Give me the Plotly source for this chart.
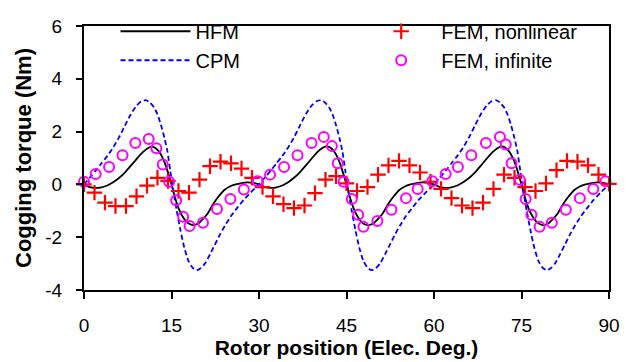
import plotly.graph_objects as go

# ---------------- data ----------------
hfm_x = [0, 1.0, 2.0, 3.0, 4.0, 5.0, 6.0, 7.0, 8.0, 9.0, 10.0, 10.8, 11.5, 12.2, 12.8, 13.4, 14.0, 14.5,
         15.0, 15.6, 16.2, 16.8, 17.5, 18.2, 18.8, 19.5, 20.3, 21.2, 22.1, 23.0, 24.0, 25.0, 26.0, 27.0, 28.0, 29.0,
         30.0, 31.0, 32.0, 33.0, 34.0, 35.0, 36.0, 37.0, 38.0, 39.0, 40.0, 40.8, 41.5, 42.2, 42.8, 43.4, 44.0, 44.5,
         45.0, 45.6, 46.2, 46.8, 47.5, 48.2, 48.8, 49.5, 50.3, 51.2, 52.1, 53.0, 54.0, 55.0, 56.0, 57.0, 58.0, 59.0,
         60.0, 61.0, 62.0, 63.0, 64.0, 65.0, 66.0, 67.0, 68.0, 69.0, 70.0, 70.8, 71.5, 72.2, 72.8, 73.4, 74.0, 74.5,
         75.0, 75.6, 76.2, 76.8, 77.5, 78.2, 78.8, 79.5, 80.3, 81.2, 82.1, 83.0, 84.0, 85.0, 86.0, 87.0, 88.0, 89.0, 90.0]
hfm_y = [0.0, -0.10, -0.13, -0.11, -0.04, 0.08, 0.24, 0.45, 0.70, 0.96, 1.20, 1.35, 1.43, 1.39, 1.26, 1.04, 0.72, 0.38,
         0.0, -0.50, -0.90, -1.18, -1.40, -1.51, -1.54, -1.49, -1.33, -1.10, -0.76, -0.48, -0.22, -0.08, 0.0, 0.05, 0.08, 0.06,
         0.0, -0.10, -0.13, -0.11, -0.04, 0.08, 0.25, 0.46, 0.71, 0.97, 1.22, 1.37, 1.44, 1.40, 1.27, 1.05, 0.72, 0.37,
         0.0, -0.50, -0.90, -1.18, -1.41, -1.52, -1.54, -1.49, -1.33, -1.10, -0.76, -0.48, -0.22, -0.08, 0.0, 0.05, 0.08, 0.06,
         0.0, -0.10, -0.13, -0.11, -0.04, 0.08, 0.24, 0.45, 0.70, 0.97, 1.21, 1.36, 1.44, 1.40, 1.27, 1.05, 0.73, 0.38,
         0.0, -0.50, -0.90, -1.18, -1.40, -1.51, -1.54, -1.49, -1.33, -1.10, -0.76, -0.48, -0.22, -0.08, 0.0, 0.05, 0.08, 0.06, 0.0]

cpm_x = [0, 1.0, 2.0, 3.0, 4.0, 5.0, 6.0, 7.0, 8.0, 9.0, 9.8, 10.6, 11.3, 12.0, 12.6, 13.2, 13.8, 14.3, 14.8,
         15.3, 15.9, 16.5, 17.2, 17.9, 18.6, 19.3, 20.0, 20.8, 21.6, 22.4, 23.3, 24.2, 25.2, 26.3, 27.4, 28.6, 29.4,
         30.0, 31.0, 32.0, 33.0, 34.0, 35.0, 36.0, 37.0, 38.0, 39.0, 39.8, 40.6, 41.3, 42.0, 42.6, 43.2, 43.8, 44.3, 44.8,
         45.3, 45.9, 46.5, 47.2, 47.9, 48.6, 49.3, 50.0, 50.8, 51.6, 52.4, 53.3, 54.2, 55.2, 56.3, 57.4, 58.6, 59.4,
         60.0, 61.0, 62.0, 63.0, 64.0, 65.0, 66.0, 67.0, 68.0, 69.0, 69.8, 70.6, 71.3, 72.0, 72.6, 73.2, 73.8, 74.3, 74.8,
         75.3, 75.9, 76.5, 77.2, 77.9, 78.6, 79.3, 80.0, 80.8, 81.6, 82.4, 83.3, 84.2, 85.2, 86.3, 87.4, 88.6, 89.4, 90.0]
cpm_y = [0.0, 0.26, 0.52, 0.80, 1.08, 1.40, 1.78, 2.22, 2.65, 2.98, 3.14, 3.19, 3.10, 2.92, 2.65, 2.25, 1.75, 1.25, 0.50,
         -0.25, -1.00, -1.70, -2.40, -2.90, -3.15, -3.25, -3.18, -2.98, -2.65, -2.30, -1.90, -1.55, -1.20, -0.88, -0.58, -0.30, -0.13,
         0.0, 0.26, 0.52, 0.80, 1.08, 1.40, 1.78, 2.22, 2.65, 2.98, 3.14, 3.19, 3.10, 2.92, 2.65, 2.25, 1.75, 1.25, 0.50,
         -0.25, -1.00, -1.70, -2.40, -2.90, -3.15, -3.25, -3.18, -2.98, -2.65, -2.30, -1.90, -1.55, -1.20, -0.88, -0.58, -0.30, -0.13,
         0.0, 0.26, 0.52, 0.80, 1.08, 1.40, 1.78, 2.22, 2.65, 2.98, 3.14, 3.19, 3.10, 2.92, 2.65, 2.25, 1.75, 1.25, 0.50,
         -0.25, -1.00, -1.70, -2.40, -2.90, -3.15, -3.25, -3.18, -2.98, -2.65, -2.30, -1.90, -1.55, -1.20, -0.88, -0.58, -0.30, -0.13, 0.0]

fem_nl_x = [0, 1.8, 3.6, 5.4, 7.2, 9.0, 10.8, 12.6, 14.4, 16.2, 18.0, 19.8, 21.6, 23.4, 25.2, 27.0, 28.8,
            30.6, 32.4, 34.2, 36.0, 37.8, 39.6, 41.4, 43.2, 45.0, 46.8, 48.6, 50.4, 52.2, 54.0, 55.8, 57.6, 59.4,
            61.2, 63.0, 64.8, 66.6, 68.4, 70.2, 72.0, 73.8, 75.6, 77.4, 79.2, 81.0, 82.8, 84.6, 86.4, 88.2, 90.0]
fem_nl_y = [0.0, -0.31, -0.69, -0.82, -0.82, -0.45, -0.05, 0.25, 0.13, -0.25, -0.31, 0.18, 0.69, 0.86, 0.80, 0.60, 0.25,
            -0.10, -0.45, -0.75, -0.90, -0.80, -0.33, 0.18, 0.31, 0.04, -0.25, -0.10, 0.37, 0.72, 0.89, 0.72, 0.45, 0.10,
            -0.17, -0.52, -0.80, -0.90, -0.69, -0.17, 0.37, 0.25, -0.10, -0.25, 0.04, 0.54, 0.89, 0.86, 0.72, 0.37, 0.02]

fem_inf_x = [0, 2.0, 4.3, 6.6, 8.8, 11.1, 12.4, 13.5, 14.6, 15.8, 17.0, 18.1, 20.4, 22.8, 25.1, 27.4,
             29.8, 31.9, 34.3, 36.6, 39.0, 41.1, 42.5, 43.5, 44.5, 45.9, 47.0, 47.9, 50.3, 52.7, 55.2, 57.2,
             59.7, 62.0, 64.1, 66.4, 68.9, 71.3, 72.3, 73.3, 74.7, 75.7, 76.7, 78.1, 80.2, 82.6, 85.0, 87.3, 89.4]
fem_inf_y = [0.10, 0.39, 0.66, 1.10, 1.57, 1.72, 1.37, 0.75, 0.10, -0.60, -1.23, -1.58, -1.45, -0.93, -0.55, -0.19,
             0.12, 0.37, 0.66, 1.10, 1.57, 1.80, 1.45, 0.80, 0.10, -0.55, -1.15, -1.60, -1.39, -0.96, -0.52, -0.17,
             0.12, 0.39, 0.66, 1.10, 1.57, 1.80, 1.51, 0.80, 0.18, -0.55, -1.15, -1.60, -1.45, -0.96, -0.52, -0.17, 0.12]

x_ticks = [0, 15, 30, 45, 60, 75, 90]
y_ticks = [-4, -2, 0, 2, 4, 6]

FONT = "Liberation Sans, Arial, sans-serif"

fig = go.Figure()
fig.add_trace(go.Scatter(x=hfm_x, y=hfm_y, mode="lines", name="HFM",
                         line=dict(color="black", width=1.8, shape="spline", smoothing=0.6),
                         legend="legend"))
fig.add_trace(go.Scatter(x=cpm_x, y=cpm_y, mode="lines", name="CPM",
                         line=dict(color="#0000FF", width=1.8, dash="5px,3px", shape="spline", smoothing=0.6),
                         legend="legend"))
fig.add_trace(go.Scatter(x=fem_nl_x, y=fem_nl_y, mode="markers", name="FEM, nonlinear",
                         marker=dict(symbol="cross-thin-open", size=11, color="#FF0000",
                                     line=dict(color="#FF0000", width=2.2)),
                         cliponaxis=False, legend="legend2"))
fig.add_trace(go.Scatter(x=fem_inf_x, y=fem_inf_y, mode="markers", name="FEM, infinite",
                         marker=dict(symbol="circle-open", size=10, color="#FF00FF",
                                     line=dict(color="#FF00FF", width=2)),
                         cliponaxis=False, legend="legend2"))

fig.update_layout(
    width=639, height=362,
    margin=dict(l=84, r=30, t=14, b=64),
    paper_bgcolor="white", plot_bgcolor="white",
    font=dict(family=FONT, color="black"),
    showlegend=True,
    legend=dict(x=0.06, y=1.054, xanchor="left", yanchor="top", bgcolor="rgba(0,0,0,0)",
                font=dict(size=20, family=FONT), itemwidth=70, tracegroupgap=0),
    legend2=dict(x=0.528, y=1.054, xanchor="left", yanchor="top", bgcolor="rgba(0,0,0,0)",
                 font=dict(size=20, family=FONT), itemwidth=70, tracegroupgap=0),
    xaxis=dict(range=[0, 90], tickvals=x_ticks, ticktext=[str(v) for v in x_ticks],
               showgrid=False, zeroline=False, showline=True, linecolor="black", linewidth=2,
               mirror=True, ticks="outside", ticklen=7, tickwidth=2, tickcolor="black",
               tickfont=dict(size=19, family=FONT), ticklabelstandoff=10,
               title=dict(text="<b>Rotor position (Elec. Deg.)</b>", font=dict(size=21, family=FONT),
                          standoff=0)),
    yaxis=dict(range=[-4, 6], tickvals=y_ticks, ticktext=[str(v) for v in y_ticks],
               showgrid=False, zeroline=False, showline=True, linecolor="black", linewidth=2,
               mirror=True, ticks="outside", ticklen=6, tickwidth=2, tickcolor="black",
               tickfont=dict(size=19, family=FONT), ticklabelstandoff=10,
               title=dict(text="<b>Cogging torque (Nm)</b>", font=dict(size=22, family=FONT),
                          standoff=8)),
)

fig.write_html("out.html")
